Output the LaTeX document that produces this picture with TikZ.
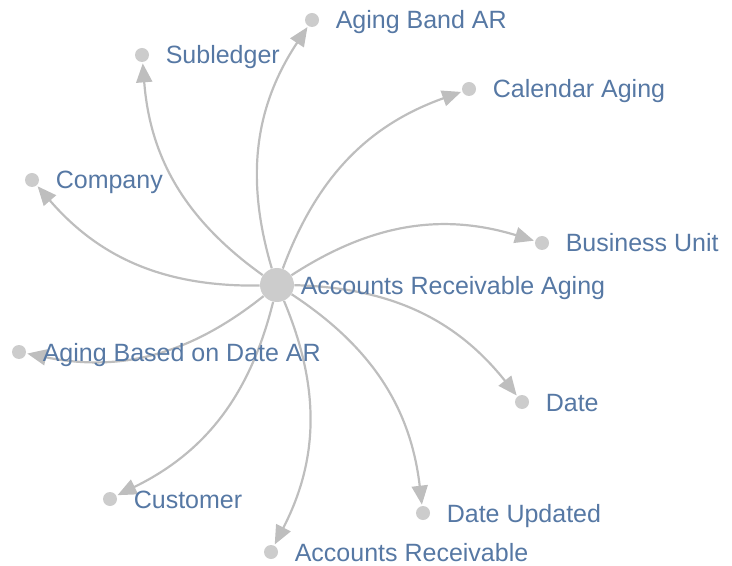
\documentclass[tikz,border=0pt]{standalone}
\usepackage{fontspec}
\setmainfont{Liberation Sans}
\usetikzlibrary{arrows.meta,positioning}
\definecolor{dotgray}{RGB}{204,204,204}
\definecolor{edgegray}{RGB}{190,190,190}
\definecolor{lblblue}{RGB}{86,120,164}
\tikzset{
  hub/.style={circle,fill=dotgray,inner sep=0pt,minimum size=17pt},
  leaf/.style={circle,fill=dotgray,inner sep=0pt,minimum size=7pt},
  lbl/.style={inner sep=0pt,text=lblblue,text height=9pt,text depth=0pt,
    font=\fontsize{12.5}{15}\selectfont},
  arr/.style={color=edgegray,line width=1.1pt,
    -{Triangle[length=9.5pt,width=8pt]},shorten >=0.5pt}
}
\begin{document}
\begin{tikzpicture}[x=0.5pt,y=-0.5pt]
\useasboundingbox (0,0) rectangle (732,566);
\node [hub] (c) at (277,285) {};
\node [leaf] (aband) at (312,20) {};
\node [leaf] (subl) at (142,55) {};
\node [leaf] (calag) at (469,89) {};
\node [leaf] (comp) at (32,180) {};
\node [leaf] (bunit) at (542,243) {};
\node [leaf] (agdate) at (19,352) {};
\node [leaf] (date) at (522,402) {};
\node [leaf] (cust) at (110,499) {};
\node [leaf] (dupd) at (423,513) {};
\node [leaf] (accr) at (271,552) {};
%
\draw [arr] (c) edge [bend left=25] (aband);
\draw [arr] (c) edge [bend left=25] (subl);
\draw [arr] (c) edge [bend left=25] (calag);
\draw [arr] (c) edge [bend left=25] (comp);
\draw [arr] (c) edge [bend left=25] (bunit);
\draw [arr] (c) edge [bend left=25] (agdate);
\draw [arr] (c) edge [bend left=25] (date);
\draw [arr] (c) edge [bend left=25] (cust);
\draw [arr] (c) edge [bend left=25] (dupd);
\draw [arr] (c) edge [bend left=25] (accr);
%
\node [lbl, right=3pt of c] (c-t) {Accounts Receivable Aging};
\node [lbl, right=8pt of aband] (aband-t) {Aging Band AR};
\node [lbl, right=8pt of subl] (subl-t) {Subledger};
\node [lbl, right=8pt of calag] (calag-t) {Calendar Aging};
\node [lbl, right=8pt of comp] (comp-t) {Company};
\node [lbl, right=8pt of bunit] (bunit-t) {Business Unit};
\node [lbl, right=8pt of agdate] (agdate-t) {Aging Based on Date AR};
\node [lbl, right=8pt of date] (date-t) {Date};
\node [lbl, right=8pt of cust] (cust-t) {Customer};
\node [lbl, right=8pt of dupd] (dupd-t) {Date Updated};
\node [lbl, right=8pt of accr] (accr-t) {Accounts Receivable};
\end{tikzpicture}
\end{document}
